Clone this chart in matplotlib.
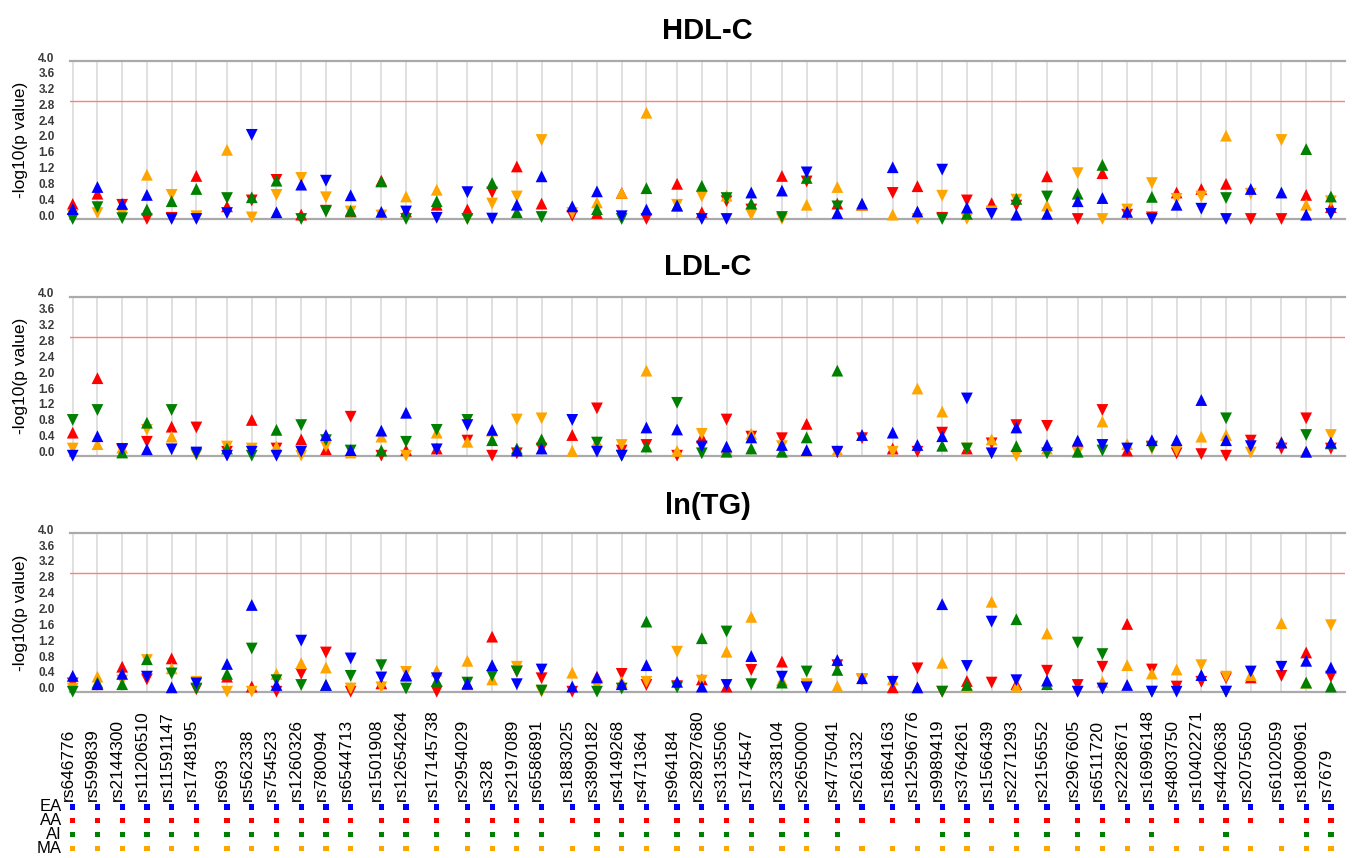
import numpy as np
import matplotlib
matplotlib.use("Agg")
import matplotlib.pyplot as plt
import matplotlib.transforms as mtransforms

plt.rcParams['font.family'] = ['Liberation Sans', 'DejaVu Sans']

snps = ['rs646776', 'rs599839', 'rs2144300', 'rs11206510', 'rs11591147', 'rs1748195',
        'rs693', 'rs562338', 'rs754523', 'rs1260326', 'rs780094', 'rs6544713',
        'rs1501908', 'rs12654264', 'rs17145738',
        'rs2954029', 'rs328', 'rs2197089', 'rs6586891',
        'rs1883025', 'rs3890182', 'rs4149268', 'rs471364',
        'rs964184', 'rs28927680', 'rs3135506', 'rs174547',
        'rs2338104', 'rs2650000', 'rs4775041', 'rs261332',
        'rs1864163', 'rs12596776', 'rs9989419', 'rs3764261', 'rs1566439', 'rs2271293',
        'rs2156552',
        'rs2967605', 'rs6511720', 'rs2228671', 'rs16996148', 'rs4803750', 'rs10402271',
        'rs4420638', 'rs2075650',
        'rs6102059', 'rs1800961', 'rs7679']
# chromosome of each SNP (a small gap is left between chromosomes)
chrom = [1]*6 + [2]*6 + [5]*2 + [7] + [8]*4 + [9]*4 + [11]*4 + [12]*2 + [15]*2 + \
        [16]*6 + [18] + [19]*8 + [20]*3

ancestries = ['EA', 'AA', 'AI', 'MA']
anc_colors = ['blue', 'red', 'green', 'orange']
traits = ['HDL-C', 'LDL-C', 'ln(TG)']
threshold = -np.log10(0.05 / 49)
nan = np.nan

# signed -log10(p): sign gives direction of effect (-0.0 = down at zero), nan = not typed
hdl_ea = [0.25, 0.81, 0.38, 0.61, -0.0, -0.0, -0.15, -2.13, 0.17, 0.87, -0.97, 0.6, 0.18, -0.19, -0.03,
          -0.68, -0.01, 0.36, 1.08, 0.32, 0.7, -0.07, 0.24, 0.34, -0.0, -0.0, 0.67, 0.72, -1.18, 0.15,
          0.39, 1.31, 0.19, -1.25, 0.29, -0.13, 0.11, 0.13, 0.45, 0.53, 0.18, -0.0, 0.36, -0.26, -0.0,
          0.76, 0.67, 0.11, -0.13]
hdl_aa = [0.38, 0.64, -0.36, -0.0, -0.03, 1.09, 0.32, -0.47, -0.99, 0.11, -0.21, 0.19, 0.97, 0.19, 0.36,
          0.24, -0.67, 1.33, 0.39, -0.08, 0.15, 0.66, -0.0, 0.89, 0.17, -0.45, -0.24, 1.09, -0.95, 0.39,
          0.36, -0.66, 0.83, -0.03, -0.47, 0.4, -0.34, 1.08, -0.0, 1.16, -0.11, -0.04, 0.67, 0.76, 0.89,
          -0.0, -0.0, 0.61, 0.3]
hdl_ai = [-0.0, -0.3, -0.02, 0.24, 0.45, 0.76, -0.53, 0.55, 0.97, -0.0, -0.19, 0.21, 0.95, -0.0, 0.45,
          -0.0, 0.91, 0.17, -0.05, nan, 0.25, -0.0, 0.78, 0.34, 0.84, -0.53, 0.39, -0.05, 1.04, -0.32,
          nan, nan, nan, -0.0, 0.13, nan, 0.51, -0.57, 0.64, 1.37, nan, 0.56, nan, nan, -0.53,
          nan, nan, 1.77, 0.57]
hdl_ma = [-0.1, -0.15, -0.12, 1.12, -0.61, -0.07, 1.75, -0.04, -0.61, -1.04, -0.55, -0.19, -0.09, 0.57, 0.74,
          -0.0, -0.39, -0.57, -2.0, -0.15, 0.42, 0.66, 2.69, -0.36, -0.57, 0.59, -0.11, -0.0, 0.36, 0.81,
          0.36, 0.11, -0.0, -0.59, -0.0, -0.19, -0.49, 0.34, -1.16, -0.0, -0.24, -0.91, -0.51, -0.57, 2.11,
          -0.64, -2.0, 0.36, -0.45]

ldl_ea = [-0.0, 0.49, -0.17, 0.16, -0.16, -0.08, -0.0, -0.1, -0.0, -0.1, 0.52, 0.14, 0.63, 1.08, -0.16,
          -0.77, 0.65, 0.13, 0.18, -0.9, -0.1, -0.0, 0.71, 0.66, -0.23, 0.23, 0.46, 0.27, 0.14, -0.1,
          0.52, 0.58, 0.27, 0.49, -1.44, -0.06, 0.71, 0.27, 0.38, -0.27, -0.18, 0.39, 0.39, 1.4, 0.39,
          -0.24, 0.33, 0.1, 0.33]
ldl_aa = [0.58, 1.95, -0.15, -0.35, 0.73, -0.71, -0.1, 0.9, -0.18, 0.41, 0.16, -0.98, -0.0, 0.14, 0.18,
          -0.38, -0.0, -0.06, -0.18, 0.52, -1.19, -0.13, -0.27, -0.0, 0.46, -0.91, -0.48, -0.44, 0.8, -0.08,
          -0.44, 0.18, -0.1, -0.58, 0.18, -0.31, -0.77, -0.75, 0.35, -1.15, 0.13, -0.23, -0.06, -0.04, -0.0,
          -0.38, -0.18, -0.94, -0.18]
ldl_ai = [-0.9, -1.15, 0.08, 0.83, -1.15, -0.04, 0.18, -0.0, 0.65, -0.77, -0.39, -0.13, 0.13, -0.35, -0.65,
          -0.9, 0.39, 0.18, 0.41, nan, -0.33, -0.0, 0.23, -1.33, -0.06, 0.1, 0.18, 0.1, 0.46, 2.14,
          nan, nan, nan, 0.25, -0.18, nan, 0.24, -0.06, 0.1, -0.13, nan, -0.21, nan, nan, -0.94,
          nan, nan, -0.52, 0.31]
ldl_ma = [-0.18, 0.29, 0.2, -0.65, 0.48, -0.02, -0.23, -0.18, 0.23, -0.0, -0.23, 0.08, 0.48, -0.0, 0.58,
          0.35, 0.63, -0.91, -0.94, 0.12, 0.35, -0.27, 2.14, 0.12, -0.55, 0.18, 0.55, -0.24, 0.13, 0.14,
          0.52, -0.1, 1.69, 1.11, -0.18, 0.41, -0.0, 0.18, -0.08, 0.86, 0.29, -0.18, -0.13, 0.48, 0.52,
          -0.08, 0.35, 0.1, -0.52]

tg_ea = [0.4, 0.19, 0.45, -0.38, 0.11, -0.21, 0.7, 2.19, 0.17, -1.29, 0.17, -0.84, -0.36, 0.42, -0.34,
         0.21, 0.67, -0.19, -0.56, 0.13, 0.36, 0.19, 0.67, 0.25, 0.13, -0.17, 0.9, -0.38, -0.11, 0.8,
         0.34, -0.25, 0.11, 2.21, -0.65, -1.77, -0.29, 0.28, -0.0, -0.08, 0.17, -0.0, -0.0, 0.42, -0.0,
         -0.51, -0.63, 0.78, 0.61]
tg_aa = [-0.21, 0.19, 0.63, -0.31, 0.84, -0.06, 0.38, 0.13, -0.0, -0.45, -0.99, -0.0, 0.21, 0.4, -0.0,
         0.19, 1.39, -0.51, -0.34, -0.0, 0.38, -0.45, -0.17, -0.14, 0.31, 0.13, -0.55, 0.76, -0.13, -0.67,
         -0.31, 0.11, -0.59, -0.0, 0.27, -0.23, 0.19, -0.53, -0.17, -0.63, 1.71, -0.56, -0.13, -0.25, -0.34,
         0.36, -0.4, 0.99, -0.38]
tg_ai = [-0.0, 0.23, 0.19, 0.82, -0.46, -0.08, 0.45, -1.09, -0.29, -0.17, 0.17, -0.4, -0.67, -0.08, 0.27,
         -0.23, -0.4, -0.51, -0.03, nan, -0.0, -0.08, 1.77, -0.11, 1.35, -1.52, -0.19, 0.23, -0.51, 0.55,
         nan, nan, nan, -0.0, 0.17, nan, 1.83, 0.19, -1.24, -0.95, nan, -0.0, nan, nan, -0.0,
         nan, nan, 0.23, 0.13]
tg_ma = [-0.08, 0.38, -0.28, -0.8, 0.59, -0.25, -0.0, -0.0, 0.45, 0.72, 0.61, -0.08, -0.11, -0.5, 0.53,
         0.78, 0.31, -0.63, -0.0, 0.48, -0.14, 0.25, -0.25, -1.01, -0.28, 1.01, 1.89, 0.29, -0.19, 0.14,
         -0.31, 0.31, 0.11, 0.73, 0.13, 2.27, 0.13, 1.47, -0.0, 0.25, 0.67, 0.46, 0.56, -0.67, -0.38,
         0.42, 1.73, 0.23, -1.68]

trait_data = [[hdl_ea, hdl_aa, hdl_ai, hdl_ma],
              [ldl_ea, ldl_aa, ldl_ai, ldl_ma],
              [tg_ea, tg_aa, tg_ai, tg_ma]]

# x positions: one step per SNP, extra space between chromosomes
grp = np.concatenate([[0], np.cumsum(np.diff(chrom) != 0)])
pos = np.arange(len(snps)) + 0.24 * grp
xlim = (-0.11, pos[-1] + 0.57)

W, H = 1352, 858
fig = plt.figure(figsize=(W / 100, H / 100), dpi=100)


def px_axes(left, top, right, bottom):
    return fig.add_axes([left / W, 1 - bottom / H, (right - left) / W, (bottom - top) / H])


panel_px = [(61, 219), (296.7, 455.7), (533.3, 691.7)]
title_pad = [16, 15.5, 14]
draw_order = [1, 3, 2, 0]  # AA, MA, AI, EA on top

for k, trait in enumerate(traits):
    top, bottom = panel_px[k]
    ax = px_axes(70, top, 1345, bottom)
    ax.set_xlim(*xlim)
    ax.set_ylim(0, 4)
    ticks = np.arange(0, 4.01, 0.4)
    ax.set_yticks(ticks)
    ax.set_yticklabels([f"{t:.1f}" for t in ticks])
    ax.set_xticks(pos)
    ax.tick_params(axis='x', length=0, labelbottom=False)
    ax.tick_params(axis='y', length=0, pad=11, labelsize=8.5, labelcolor='#3a3a3a')
    shift = mtransforms.ScaledTranslation(0, 4 / 100, fig.dpi_scale_trans)
    for lab in ax.get_yticklabels():
        lab.set_transform(lab.get_transform() + shift)
        lab.set_fontweight('bold')
    ax.grid(axis='x', color='#dddddd', lw=1.3)
    ax.set_axisbelow(True)
    for s in ['left', 'right']:
        ax.spines[s].set_visible(False)
    for s in ['top', 'bottom']:
        ax.spines[s].set_color('#aaaaaa')
        ax.spines[s].set_linewidth(1.6)
    ax.axhline(threshold, color='#ff8080', lw=1.0, zorder=1)

    for j in draw_order:
        v = np.array(trait_data[k][j], dtype=float)
        ok = ~np.isnan(v)
        down = np.signbit(v) & ok
        up = ~np.signbit(v) & ok
        ax.scatter(pos[up], np.abs(v[up]), marker='^', s=72, color=anc_colors[j],
                   edgecolors='none', clip_on=False, zorder=3)
        ax.scatter(pos[down], np.abs(v[down]), marker='v', s=72, color=anc_colors[j],
                   edgecolors='none', clip_on=False, zorder=3)

    ax.set_title(trait, fontsize=21, fontweight='bold', pad=title_pad[k])
    ax.set_ylabel('-log10(p value)', fontsize=12.5)
    ax.yaxis.set_label_coords(-0.033, 0.5)

# SNP names and ancestry availability matrix
axm = px_axes(70, 698, 1345, 858)
axm.set_xlim(*xlim)
axm.set_ylim(3.67, -7.84)
axm.axis('off')
for i, name in enumerate(snps):
    axm.text(pos[i] - 0.19, -0.45, name, rotation=90, ha='center', va='bottom', fontsize=12.5)
for j, anc in enumerate(ancestries):
    typed = ~np.isnan(np.array(trait_data[0][j], dtype=float))
    axm.scatter(pos[typed], np.full(typed.sum(), j), marker='s', s=14, color=anc_colors[j],
                edgecolors='none', clip_on=False)
    axm.text(-0.43, j, anc, ha='right', va='center', fontsize=12)

fig.savefig('out.png', dpi=100)
